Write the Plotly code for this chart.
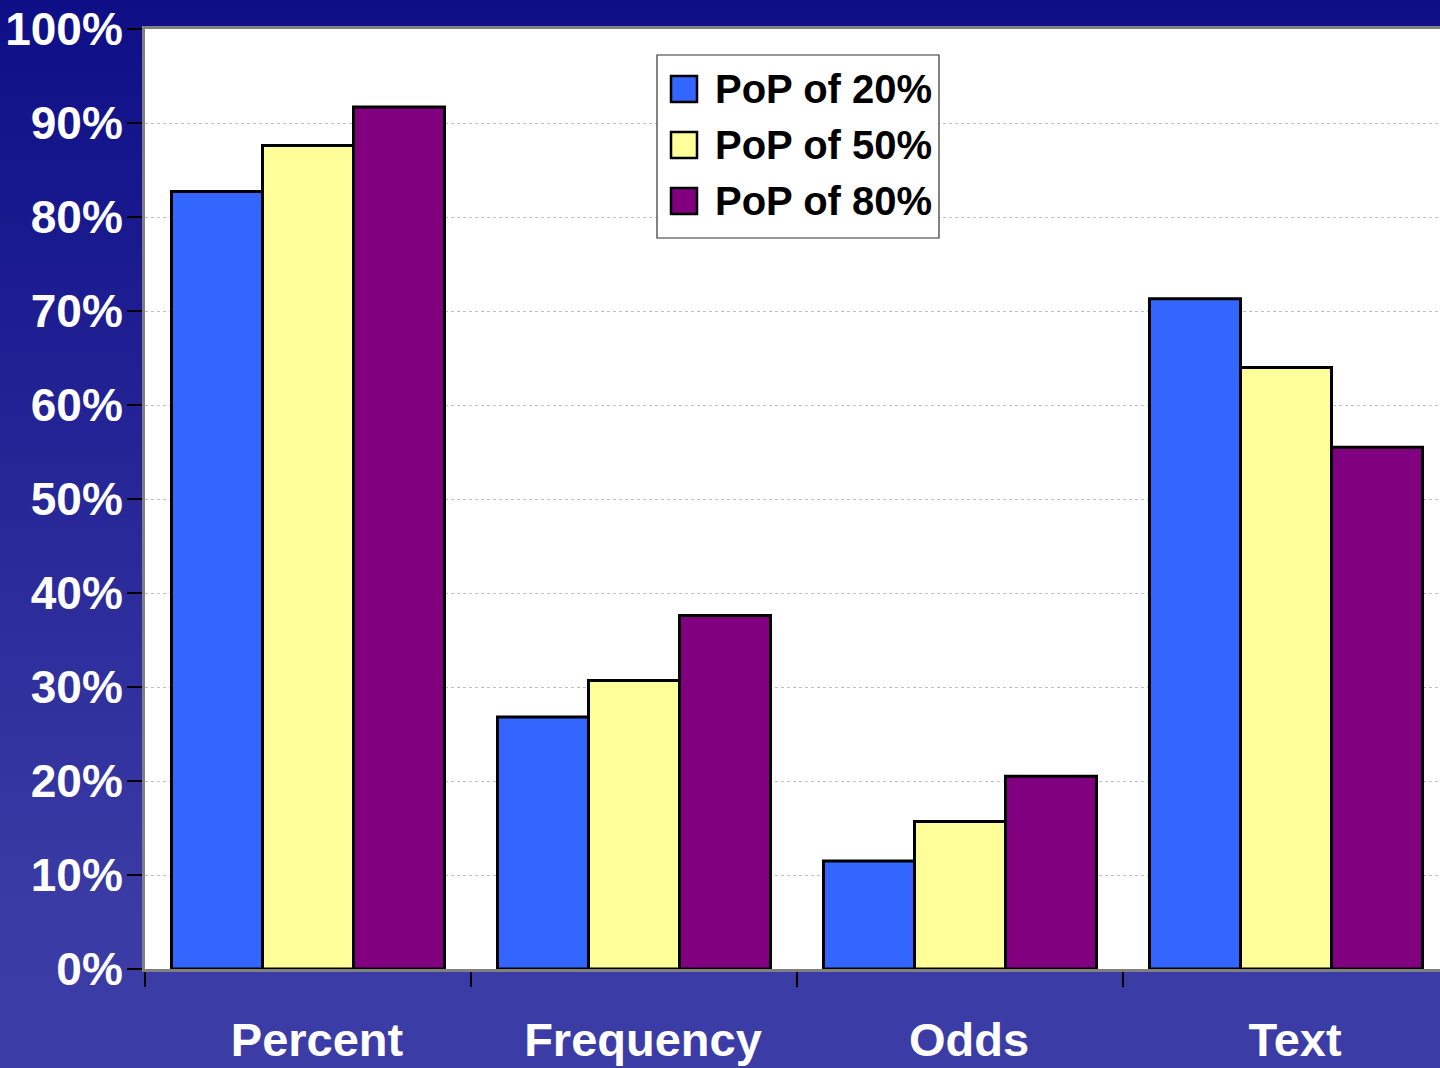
import base64
import plotly.graph_objects as go

categories = ["Percent", "Frequency", "Odds", "Text"]
series_names = ["PoP of 20%", "PoP of 50%", "PoP of 80%"]
pop20 = [82.7, 26.8, 11.5, 71.3]
pop50 = [87.6, 30.7, 15.7, 64.0]
pop80 = [91.7, 37.6, 20.5, 55.5]
series_values = [pop20, pop50, pop80]
colors = ["#3366FF", "#FFFF99", "#800080"]
y_ticks = list(range(0, 101, 10))
y_tick_labels = [f"{v}%" for v in y_ticks]

W, H = 1440, 1068
ML, MR, MT, MB = 145, 0, 29, 99
PW, PH = W - ML - MR, H - MT - MB
CAT_PX = 326.0

FONT = "Liberation Sans, Arial, Helvetica, sans-serif"

fig = go.Figure()
for name, vals, col in zip(series_names, series_values, colors):
    fig.add_trace(go.Bar(
        x=categories, y=vals, name=name,
        marker=dict(color=col, line=dict(color="black", width=3)),
        showlegend=False,
    ))

# gradient background via inline SVG
svg = (
    '<svg xmlns="http://www.w3.org/2000/svg" width="1440" height="1068" preserveAspectRatio="none">'
    '<defs><linearGradient id="g" x1="0" y1="0" x2="0" y2="1">'
    '<stop offset="0" stop-color="#0E0E87"/>'
    '<stop offset="0.85" stop-color="#3B3BA5"/>'
    '<stop offset="1" stop-color="#3C3CA6"/>'
    '</linearGradient></defs>'
    '<rect width="1440" height="1068" fill="url(#g)"/></svg>'
)
src = "data:image/svg+xml;base64," + base64.b64encode(svg.encode()).decode()


def px_x(x):
    return (x - ML) / PW


def px_y(y):
    return (H - MB - y) / PH


images = [dict(
    source=src, xref="paper", yref="paper",
    x=px_x(0), y=px_y(0), sizex=W / PW, sizey=H / PH,
    xanchor="left", yanchor="top", sizing="stretch", layer="below",
)]

# white plot area drawn above the gradient image
shapes = [dict(
    type="rect", xref="paper", yref="paper", x0=0, x1=1, y0=0, y1=1,
    fillcolor="white", line=dict(width=0), layer="below",
)]

# manual legend
shapes.append(dict(
    type="rect", xref="paper", yref="paper",
    x0=px_x(657), x1=px_x(939), y0=px_y(238), y1=px_y(55),
    fillcolor="white", line=dict(color="#333333", width=1.2), layer="above",
))
annotations = []
row_centers = [89, 145, 201]
for name, col, cy in zip(series_names, colors, row_centers):
    shapes.append(dict(
        type="rect", xref="paper", yref="paper",
        x0=px_x(671), x1=px_x(697), y0=px_y(cy + 13), y1=px_y(cy - 13),
        fillcolor=col, line=dict(color="black", width=2.5), layer="above",
    ))
    annotations.append(dict(
        xref="paper", yref="paper", x=px_x(713), y=px_y(cy),
        xanchor="left", yanchor="middle", text=name, showarrow=False,
        font=dict(family=FONT, size=40, color="black", weight="bold"),
    ))

fig.update_layout(
    width=W, height=H,
    margin=dict(l=ML, r=MR, t=MT, b=MB, pad=0),
    paper_bgcolor="#2A2A9A",
    plot_bgcolor="white",
    barmode="group", bargap=1 - 273 / 326, bargroupgap=0,
    images=images, shapes=shapes, annotations=annotations,
    showlegend=False,
)
fig.update_xaxes(
    type="category",
    range=[-0.5, -0.5 + PW / CAT_PX],
    tickson="boundaries", ticks="outside", ticklen=15, tickwidth=2, tickcolor="black",
    ticklabelstandoff=28, ticklabelshift=9,
    tickfont=dict(family=FONT, size=47, color="white", weight="bold"),
    showline=True, linecolor="#808080", linewidth=3, mirror=True,
    showgrid=False, zeroline=False,
)
fig.update_yaxes(
    range=[0, 100],
    tickmode="array", tickvals=y_ticks, ticktext=y_tick_labels,
    ticks="outside", ticklen=15, tickwidth=2, tickcolor="black",
    ticklabelstandoff=-5,
    tickfont=dict(family=FONT, size=46, color="white", weight="bold"),
    showline=True, linecolor="#808080", linewidth=3, mirror=False,
    showgrid=True, gridcolor="#C0C0C0", gridwidth=1, griddash="dot",
    zeroline=False,
)

fig.write_html(
    "out.html",
    config={"displayModeBar": False},
    post_script="document.body.style.margin='0';document.body.style.padding='0';",
)
